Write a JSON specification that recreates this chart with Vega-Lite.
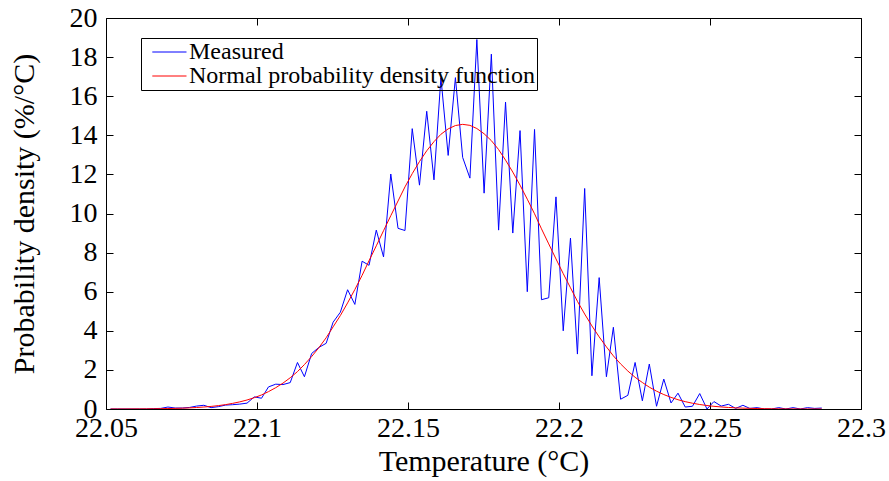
{
  "$schema": "https://vega.github.io/schema/vega-lite/v6.json",
  "width": 755,
  "height": 391,
  "autosize": "none",
  "padding": {"left": 106, "top": 18, "right": 28, "bottom": 72},
  "background": "white",
  "config": {
    "font": "Liberation Serif",
    "view": {"stroke": null},
    "axis": {
      "domainColor": "black",
      "domainWidth": 1,
      "tickColor": "black",
      "tickWidth": 1,
      "tickSize": -7,
      "grid": false,
      "labelFont": "Liberation Serif",
      "labelFontSize": 28,
      "labelColor": "black",
      "titleFont": "Liberation Serif",
      "titleFontSize": 30,
      "titleFontWeight": "normal",
      "titleColor": "black",
      "titleLimit": 800
    }
  },
  "datasets": {
    "measured": [
      {"temperature": 22.0515, "density": 0, "series": "Measured"},
      {"temperature": 22.0539, "density": 0, "series": "Measured"},
      {"temperature": 22.0563, "density": 0, "series": "Measured"},
      {"temperature": 22.0586, "density": 0, "series": "Measured"},
      {"temperature": 22.0610, "density": 0, "series": "Measured"},
      {"temperature": 22.0634, "density": 0, "series": "Measured"},
      {"temperature": 22.0658, "density": 0.02, "series": "Measured"},
      {"temperature": 22.0681, "density": 0.03, "series": "Measured"},
      {"temperature": 22.0705, "density": 0.1, "series": "Measured"},
      {"temperature": 22.0729, "density": 0.05, "series": "Measured"},
      {"temperature": 22.0753, "density": 0.05, "series": "Measured"},
      {"temperature": 22.0777, "density": 0.08, "series": "Measured"},
      {"temperature": 22.0800, "density": 0.15, "series": "Measured"},
      {"temperature": 22.0824, "density": 0.19, "series": "Measured"},
      {"temperature": 22.0848, "density": 0.07, "series": "Measured"},
      {"temperature": 22.0872, "density": 0.12, "series": "Measured"},
      {"temperature": 22.0896, "density": 0.2, "series": "Measured"},
      {"temperature": 22.0919, "density": 0.22, "series": "Measured"},
      {"temperature": 22.0943, "density": 0.25, "series": "Measured"},
      {"temperature": 22.0967, "density": 0.3, "series": "Measured"},
      {"temperature": 22.0991, "density": 0.62, "series": "Measured"},
      {"temperature": 22.1015, "density": 0.55, "series": "Measured"},
      {"temperature": 22.1038, "density": 1.13, "series": "Measured"},
      {"temperature": 22.1062, "density": 1.27, "series": "Measured"},
      {"temperature": 22.1086, "density": 1.25, "series": "Measured"},
      {"temperature": 22.1110, "density": 1.35, "series": "Measured"},
      {"temperature": 22.1134, "density": 2.38, "series": "Measured"},
      {"temperature": 22.1157, "density": 1.65, "series": "Measured"},
      {"temperature": 22.1181, "density": 2.84, "series": "Measured"},
      {"temperature": 22.1205, "density": 3.15, "series": "Measured"},
      {"temperature": 22.1229, "density": 3.36, "series": "Measured"},
      {"temperature": 22.1252, "density": 4.44, "series": "Measured"},
      {"temperature": 22.1276, "density": 4.95, "series": "Measured"},
      {"temperature": 22.1300, "density": 6.1, "series": "Measured"},
      {"temperature": 22.1324, "density": 5.35, "series": "Measured"},
      {"temperature": 22.1348, "density": 7.56, "series": "Measured"},
      {"temperature": 22.1371, "density": 7.35, "series": "Measured"},
      {"temperature": 22.1395, "density": 9.15, "series": "Measured"},
      {"temperature": 22.1419, "density": 7.78, "series": "Measured"},
      {"temperature": 22.1443, "density": 12.02, "series": "Measured"},
      {"temperature": 22.1467, "density": 9.24, "series": "Measured"},
      {"temperature": 22.1490, "density": 9.13, "series": "Measured"},
      {"temperature": 22.1514, "density": 14.34, "series": "Measured"},
      {"temperature": 22.1538, "density": 11.45, "series": "Measured"},
      {"temperature": 22.1562, "density": 15.23, "series": "Measured"},
      {"temperature": 22.1586, "density": 11.72, "series": "Measured"},
      {"temperature": 22.1609, "density": 16.95, "series": "Measured"},
      {"temperature": 22.1633, "density": 12.97, "series": "Measured"},
      {"temperature": 22.1657, "density": 16.95, "series": "Measured"},
      {"temperature": 22.1681, "density": 12.87, "series": "Measured"},
      {"temperature": 22.1705, "density": 11.81, "series": "Measured"},
      {"temperature": 22.1728, "density": 18.9, "series": "Measured"},
      {"temperature": 22.1752, "density": 11.04, "series": "Measured"},
      {"temperature": 22.1776, "density": 18.15, "series": "Measured"},
      {"temperature": 22.1800, "density": 9.15, "series": "Measured"},
      {"temperature": 22.1823, "density": 15.7, "series": "Measured"},
      {"temperature": 22.1847, "density": 9.0, "series": "Measured"},
      {"temperature": 22.1871, "density": 14.24, "series": "Measured"},
      {"temperature": 22.1895, "density": 6.0, "series": "Measured"},
      {"temperature": 22.1919, "density": 14.3, "series": "Measured"},
      {"temperature": 22.1942, "density": 5.59, "series": "Measured"},
      {"temperature": 22.1966, "density": 5.69, "series": "Measured"},
      {"temperature": 22.1990, "density": 10.85, "series": "Measured"},
      {"temperature": 22.2014, "density": 4.0, "series": "Measured"},
      {"temperature": 22.2038, "density": 8.74, "series": "Measured"},
      {"temperature": 22.2061, "density": 2.81, "series": "Measured"},
      {"temperature": 22.2085, "density": 11.28, "series": "Measured"},
      {"temperature": 22.2109, "density": 1.7, "series": "Measured"},
      {"temperature": 22.2133, "density": 6.72, "series": "Measured"},
      {"temperature": 22.2157, "density": 1.65, "series": "Measured"},
      {"temperature": 22.2180, "density": 4.18, "series": "Measured"},
      {"temperature": 22.2204, "density": 0.5, "series": "Measured"},
      {"temperature": 22.2228, "density": 0.7, "series": "Measured"},
      {"temperature": 22.2252, "density": 2.38, "series": "Measured"},
      {"temperature": 22.2276, "density": 0.42, "series": "Measured"},
      {"temperature": 22.2299, "density": 2.3, "series": "Measured"},
      {"temperature": 22.2323, "density": 0.14, "series": "Measured"},
      {"temperature": 22.2347, "density": 1.53, "series": "Measured"},
      {"temperature": 22.2371, "density": 0.31, "series": "Measured"},
      {"temperature": 22.2394, "density": 0.81, "series": "Measured"},
      {"temperature": 22.2418, "density": 0.1, "series": "Measured"},
      {"temperature": 22.2442, "density": 0.14, "series": "Measured"},
      {"temperature": 22.2466, "density": 0.79, "series": "Measured"},
      {"temperature": 22.2490, "density": 0, "series": "Measured"},
      {"temperature": 22.2513, "density": 0.38, "series": "Measured"},
      {"temperature": 22.2537, "density": 0.15, "series": "Measured"},
      {"temperature": 22.2561, "density": 0.24, "series": "Measured"},
      {"temperature": 22.2585, "density": 0.03, "series": "Measured"},
      {"temperature": 22.2609, "density": 0.19, "series": "Measured"},
      {"temperature": 22.2632, "density": 0.03, "series": "Measured"},
      {"temperature": 22.2656, "density": 0.07, "series": "Measured"},
      {"temperature": 22.2680, "density": 0, "series": "Measured"},
      {"temperature": 22.2704, "density": 0, "series": "Measured"},
      {"temperature": 22.2728, "density": 0.07, "series": "Measured"},
      {"temperature": 22.2751, "density": 0, "series": "Measured"},
      {"temperature": 22.2775, "density": 0.07, "series": "Measured"},
      {"temperature": 22.2799, "density": 0, "series": "Measured"},
      {"temperature": 22.2823, "density": 0.07, "series": "Measured"},
      {"temperature": 22.2847, "density": 0.03, "series": "Measured"},
      {"temperature": 22.2870, "density": 0.05, "series": "Measured"}
    ],
    "normal": [
      {"temperature": 22.0515, "density": 0.0015, "series": "Normal probability density function"},
      {"temperature": 22.0539, "density": 0.0021, "series": "Normal probability density function"},
      {"temperature": 22.0563, "density": 0.0031, "series": "Normal probability density function"},
      {"temperature": 22.0586, "density": 0.0044, "series": "Normal probability density function"},
      {"temperature": 22.0610, "density": 0.0062, "series": "Normal probability density function"},
      {"temperature": 22.0634, "density": 0.0088, "series": "Normal probability density function"},
      {"temperature": 22.0658, "density": 0.0123, "series": "Normal probability density function"},
      {"temperature": 22.0681, "density": 0.017, "series": "Normal probability density function"},
      {"temperature": 22.0705, "density": 0.0234, "series": "Normal probability density function"},
      {"temperature": 22.0729, "density": 0.0319, "series": "Normal probability density function"},
      {"temperature": 22.0753, "density": 0.0431, "series": "Normal probability density function"},
      {"temperature": 22.0777, "density": 0.0572, "series": "Normal probability density function"},
      {"temperature": 22.0800, "density": 0.0762, "series": "Normal probability density function"},
      {"temperature": 22.0824, "density": 0.1009, "series": "Normal probability density function"},
      {"temperature": 22.0848, "density": 0.1325, "series": "Normal probability density function"},
      {"temperature": 22.0872, "density": 0.1729, "series": "Normal probability density function"},
      {"temperature": 22.0896, "density": 0.2232, "series": "Normal probability density function"},
      {"temperature": 22.0919, "density": 0.2866, "series": "Normal probability density function"},
      {"temperature": 22.0943, "density": 0.365, "series": "Normal probability density function"},
      {"temperature": 22.0967, "density": 0.4608, "series": "Normal probability density function"},
      {"temperature": 22.0991, "density": 0.578, "series": "Normal probability density function"},
      {"temperature": 22.1015, "density": 0.7191, "series": "Normal probability density function"},
      {"temperature": 22.1038, "density": 0.888, "series": "Normal probability density function"},
      {"temperature": 22.1062, "density": 1.0894, "series": "Normal probability density function"},
      {"temperature": 22.1086, "density": 1.3237, "series": "Normal probability density function"},
      {"temperature": 22.1110, "density": 1.599, "series": "Normal probability density function"},
      {"temperature": 22.1134, "density": 1.912, "series": "Normal probability density function"},
      {"temperature": 22.1157, "density": 2.273, "series": "Normal probability density function"},
      {"temperature": 22.1181, "density": 2.684, "series": "Normal probability density function"},
      {"temperature": 22.1205, "density": 3.138, "series": "Normal probability density function"},
      {"temperature": 22.1229, "density": 3.644, "series": "Normal probability density function"},
      {"temperature": 22.1252, "density": 4.2, "series": "Normal probability density function"},
      {"temperature": 22.1276, "density": 4.779, "series": "Normal probability density function"},
      {"temperature": 22.1300, "density": 5.427, "series": "Normal probability density function"},
      {"temperature": 22.1324, "density": 6.112, "series": "Normal probability density function"},
      {"temperature": 22.1348, "density": 6.836, "series": "Normal probability density function"},
      {"temperature": 22.1371, "density": 7.586, "series": "Normal probability density function"},
      {"temperature": 22.1395, "density": 8.346, "series": "Normal probability density function"},
      {"temperature": 22.1419, "density": 9.12, "series": "Normal probability density function"},
      {"temperature": 22.1443, "density": 9.889, "series": "Normal probability density function"},
      {"temperature": 22.1467, "density": 10.64, "series": "Normal probability density function"},
      {"temperature": 22.1490, "density": 11.361, "series": "Normal probability density function"},
      {"temperature": 22.1514, "density": 12.038, "series": "Normal probability density function"},
      {"temperature": 22.1538, "density": 12.658, "series": "Normal probability density function"},
      {"temperature": 22.1562, "density": 13.207, "series": "Normal probability density function"},
      {"temperature": 22.1586, "density": 13.675, "series": "Normal probability density function"},
      {"temperature": 22.1609, "density": 14.052, "series": "Normal probability density function"},
      {"temperature": 22.1633, "density": 14.328, "series": "Normal probability density function"},
      {"temperature": 22.1657, "density": 14.499, "series": "Normal probability density function"},
      {"temperature": 22.1681, "density": 14.56, "series": "Normal probability density function"},
      {"temperature": 22.1705, "density": 14.509, "series": "Normal probability density function"},
      {"temperature": 22.1728, "density": 14.347, "series": "Normal probability density function"},
      {"temperature": 22.1752, "density": 14.079, "series": "Normal probability density function"},
      {"temperature": 22.1776, "density": 13.727, "series": "Normal probability density function"},
      {"temperature": 22.1800, "density": 13.27, "series": "Normal probability density function"},
      {"temperature": 22.1823, "density": 12.73, "series": "Normal probability density function"},
      {"temperature": 22.1847, "density": 12.118, "series": "Normal probability density function"},
      {"temperature": 22.1871, "density": 11.449, "series": "Normal probability density function"},
      {"temperature": 22.1895, "density": 10.732, "series": "Normal probability density function"},
      {"temperature": 22.1919, "density": 9.985, "series": "Normal probability density function"},
      {"temperature": 22.1942, "density": 9.216, "series": "Normal probability density function"},
      {"temperature": 22.1966, "density": 8.445, "series": "Normal probability density function"},
      {"temperature": 22.1990, "density": 7.677, "series": "Normal probability density function"},
      {"temperature": 22.2014, "density": 6.926, "series": "Normal probability density function"},
      {"temperature": 22.2038, "density": 6.201, "series": "Normal probability density function"},
      {"temperature": 22.2061, "density": 5.509, "series": "Normal probability density function"},
      {"temperature": 22.2085, "density": 4.857, "series": "Normal probability density function"},
      {"temperature": 22.2109, "density": 4.25, "series": "Normal probability density function"},
      {"temperature": 22.2133, "density": 3.69, "series": "Normal probability density function"},
      {"temperature": 22.2157, "density": 3.178, "series": "Normal probability density function"},
      {"temperature": 22.2180, "density": 2.718, "series": "Normal probability density function"},
      {"temperature": 22.2204, "density": 2.306, "series": "Normal probability density function"},
      {"temperature": 22.2228, "density": 1.942, "series": "Normal probability density function"},
      {"temperature": 22.2252, "density": 1.622, "series": "Normal probability density function"},
      {"temperature": 22.2276, "density": 1.356, "series": "Normal probability density function"},
      {"temperature": 22.2299, "density": 1.116, "series": "Normal probability density function"},
      {"temperature": 22.2323, "density": 0.912, "series": "Normal probability density function"},
      {"temperature": 22.2347, "density": 0.739, "series": "Normal probability density function"},
      {"temperature": 22.2371, "density": 0.594, "series": "Normal probability density function"},
      {"temperature": 22.2394, "density": 0.474, "series": "Normal probability density function"},
      {"temperature": 22.2418, "density": 0.376, "series": "Normal probability density function"},
      {"temperature": 22.2442, "density": 0.295, "series": "Normal probability density function"},
      {"temperature": 22.2466, "density": 0.23, "series": "Normal probability density function"},
      {"temperature": 22.2490, "density": 0.178, "series": "Normal probability density function"},
      {"temperature": 22.2513, "density": 0.137, "series": "Normal probability density function"},
      {"temperature": 22.2537, "density": 0.105, "series": "Normal probability density function"},
      {"temperature": 22.2561, "density": 0.079, "series": "Normal probability density function"},
      {"temperature": 22.2585, "density": 0.059, "series": "Normal probability density function"},
      {"temperature": 22.2609, "density": 0.044, "series": "Normal probability density function"},
      {"temperature": 22.2632, "density": 0.033, "series": "Normal probability density function"},
      {"temperature": 22.2656, "density": 0.024, "series": "Normal probability density function"},
      {"temperature": 22.2680, "density": 0.0175, "series": "Normal probability density function"},
      {"temperature": 22.2704, "density": 0.0126, "series": "Normal probability density function"},
      {"temperature": 22.2728, "density": 0.009, "series": "Normal probability density function"},
      {"temperature": 22.2751, "density": 0.0064, "series": "Normal probability density function"},
      {"temperature": 22.2775, "density": 0.0045, "series": "Normal probability density function"},
      {"temperature": 22.2799, "density": 0.0032, "series": "Normal probability density function"},
      {"temperature": 22.2823, "density": 0.0022, "series": "Normal probability density function"},
      {"temperature": 22.2847, "density": 0.0016, "series": "Normal probability density function"},
      {"temperature": 22.2870, "density": 0.0011, "series": "Normal probability density function"}
    ]
  },
  "layer": [
    {
      "data": {"name": "measured"},
      "mark": {"type": "line", "strokeWidth": 1, "clip": true},
      "encoding": {
        "x": {
          "field": "temperature", "type": "quantitative",
          "scale": {"domain": [22.05, 22.3], "nice": false, "zero": false},
          "axis": {
            "orient": "bottom",
            "values": [22.05, 22.1, 22.15, 22.2, 22.25, 22.3],
            "format": "~g",
            "labelPadding": 12,
            "labelFlush": false,
            "title": "Temperature (°C)",
            "titleBaseline": "alphabetic",
            "titleY": 61
          }
        },
        "y": {
          "field": "density", "type": "quantitative",
          "scale": {"domain": [0, 20], "nice": false},
          "axis": {
            "orient": "left",
            "values": [0, 2, 4, 6, 8, 10, 12, 14, 16, 18, 20],
            "labelPadding": 16,
            "labelFlush": false,
            "title": "Probability density (%/°C)",
            "titleAngle": -90,
            "titleAlign": "center",
            "titleBaseline": "alphabetic",
            "titleX": -73,
            "titleY": 195.5
          }
        },
        "color": {
          "field": "series", "type": "nominal",
          "scale": {"domain": ["Measured", "Normal probability density function"], "range": ["#0000ff", "#ff0000"]},
          "legend": {
            "title": null,
            "orient": "none",
            "legendX": 35,
            "legendY": 20,
            "fillColor": "transparent",
            "strokeColor": "black",
            "padding": 2,
            "labelFont": "Liberation Serif",
            "labelFontSize": 24,
            "labelColor": "black",
            "labelLimit": 800,
            "labelOffset": 22,
            "rowPadding": -16,
            "symbolType": "M-0.3,0H3.5",
            "symbolSize": 324,
            "symbolStrokeWidth": 1,
            "symbolFillColor": "transparent"
          }
        }
      }
    },
    {
      "data": {"name": "normal"},
      "mark": {"type": "line", "strokeWidth": 1, "clip": true},
      "encoding": {
        "x": {
          "field": "temperature", "type": "quantitative",
          "axis": {
            "orient": "top",
            "values": [22.05, 22.1, 22.15, 22.2, 22.25, 22.3],
            "labels": false,
            "title": null
          }
        },
        "y": {
          "field": "density", "type": "quantitative",
          "axis": {
            "orient": "right",
            "values": [0, 2, 4, 6, 8, 10, 12, 14, 16, 18, 20],
            "labels": false,
            "title": null
          }
        },
        "color": {"field": "series", "type": "nominal"}
      }
    }
  ],
  "resolve": {"axis": {"x": "independent", "y": "independent"}}
}
